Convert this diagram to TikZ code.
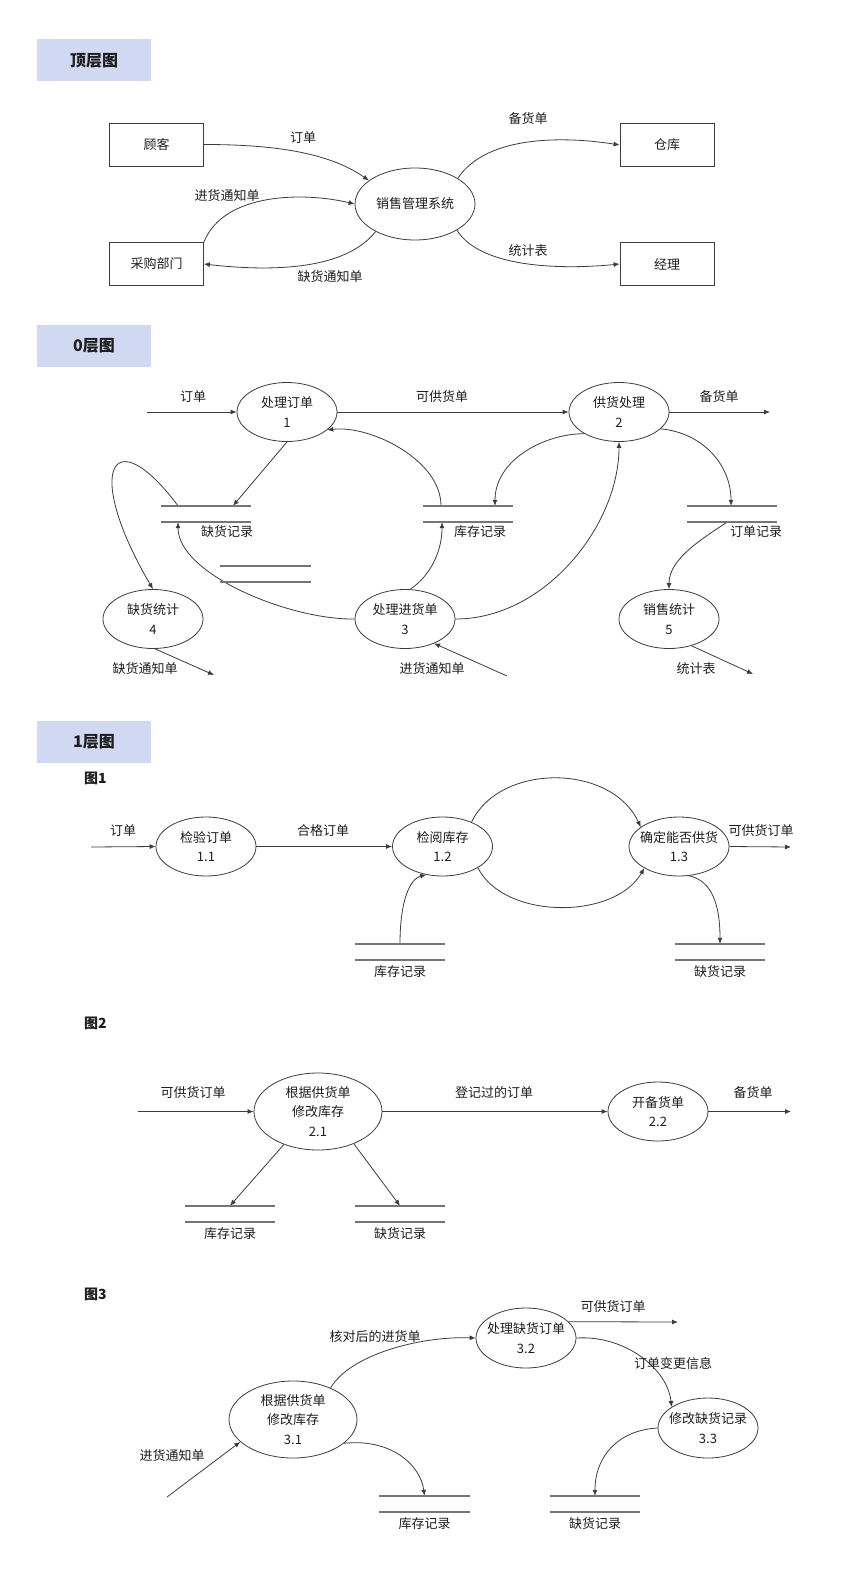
\documentclass[tikz,border=0pt]{standalone}
\usepackage{fontspec}
\setmainfont{Noto Sans CJK SC}
\usetikzlibrary{arrows.meta,shapes.geometric,positioning}

\definecolor{hdrblue}{RGB}{209,217,242}
\definecolor{linegray}{RGB}{60,60,60}
\definecolor{storegray}{RGB}{118,118,118}
\definecolor{textblack}{RGB}{30,30,30}
\newcommand{\dfdfont}{\fontsize{13pt}{19.5pt}\selectfont}

\tikzset{
  header/.style={rectangle, fill=hdrblue, minimum width=113.5pt, minimum height=42pt,
    inner sep=0pt, font=\fontsize{16pt}{18pt}\selectfont\bfseries, text=textblack},
  figtitle/.style={inner sep=0pt, font=\fontsize{14pt}{16pt}\selectfont\bfseries, text=textblack},
  entity/.style={rectangle, draw=linegray, line width=0.8pt, minimum width=94pt,
    minimum height=43pt, inner sep=0pt, font=\dfdfont, text=textblack},
  proc/.style={ellipse, draw=linegray, line width=0.8pt, minimum width=100pt,
    minimum height=59pt, inner sep=-5pt, align=center, font=\dfdfont, text=textblack},
  bigproc/.style={minimum width=128pt, minimum height=77pt},
  datastore/.style={rectangle, minimum width=90pt, minimum height=16pt, inner sep=0pt},
  storeline/.style={draw=storegray, line width=1.7pt},
  flow/.style={draw=linegray, line width=0.8pt, -{Latex[length=6pt,width=5pt]}},
  flowlabel/.style={inner sep=0pt, font=\dfdfont, text=textblack}
}

\begin{document}
\begin{tikzpicture}[x=1pt,y=-1pt]
    \fill[white] (0,0) rectangle (840,1589);
    \useasboundingbox (0,0) rectangle (840,1589);

    % ---------- top level ----------
    \node[header] (hdrTop) at (94,60.5) {顶层图};
    \node[entity] (cust) at (156.5,144.5) {顾客};
    \node[entity] (purch) at (156.5,264) {采购部门};
    \node[entity] (wh) at (667,145) {仓库};
    \node[entity] (mgr) at (667,264) {经理};
    \node[proc, minimum width=120pt, minimum height=72pt] (sys) at (415,204) {销售管理系统};

    % draw flows
    \draw[flow] (cust.east) .. controls +(70,0) and +(-40,-28) .. (sys.153);
    \draw[flow] (purch.north east) .. controls +(20,-50) and +(-50,-12) .. (sys.west);
    \draw[flow] (sys.-145) .. controls +(-30,38) and +(70,8) .. (purch.east);
    \draw[flow] (sys.31) .. controls +(30,-45) and +(-50,-8) .. (wh.west);
    \draw[flow] (sys.-32) .. controls +(25,40) and +(-50,5) .. (mgr.west);

    % draw labels
    \node[flowlabel] (lTopOrder) at (303,138) {订单};
    \node[flowlabel] (lTopIn) at (227,196) {进货通知单};
    \node[flowlabel] (lTopShort) at (330,277) {缺货通知单};
    \node[flowlabel] (lTopPrep) at (528,119) {备货单};
    \node[flowlabel] (lTopStat) at (528,251) {统计表};

    % ---------- level 0 ----------
    \node[header] (hdr0) at (94,346) {0层图};
    \node[proc] (p1) at (287,412) {处理订单\\1};
    \node[proc] (p2) at (619,412) {供货处理\\2};
    \node[proc] (p3) at (405,619) {处理进货单\\3};
    \node[proc] (p4) at (153,619) {缺货统计\\4};
    \node[proc] (p5) at (669,619) {销售统计\\5};

    % draw stores
    \node[datastore] (d1) at (206,514) {};
    \node[datastore] (d2) at (468,514) {};
    \node[datastore] (d3) at (732,514) {};
    \node[datastore] (d4) at (265.5,574) {};
    \node[flowlabel, below=3pt of d1, xshift=21pt] (d1name) {缺货记录};
    \node[flowlabel, below=3pt of d2, xshift=12pt] (d2name) {库存记录};
    \node[flowlabel, below=3pt of d3, xshift=24pt] (d3name) {订单记录};

    \coordinate (in0) at (147,412);
    \coordinate (out0) at (770,412);
    \coordinate (out4) at (214,675);
    \coordinate (in3) at (507,676);
    \coordinate (out5) at (753,674);

    % draw flows
    \draw[flow] (in0) -- (p1.west);
    \draw[flow] (p1.east) -- (p2.west);
    \draw[flow] (p2.east) -- (out0);
    \draw[flow] (p1.south) -- ([xshift=27pt]d1.north);
    \draw[flow] ([xshift=-28pt]d1.north) .. controls +(-66,-88) and +(-70,-119) .. (p4.north);
    \draw[flow] (p3.west) .. controls +(-65,1) and +(0,52) .. ([xshift=-28pt]d1.south);
    \draw[flow] ([xshift=-27pt]d2.north) .. controls +(0,-46) and +(43,-5) .. (p1.-24);
    \draw[flow] (p2.-148) .. controls +(-40,0) and +(0,-46) .. ([xshift=27pt]d2.north);
    \draw[flow] (p2.-22) .. controls +(42,4) and +(0,-41) .. ([xshift=-1pt]d3.north);
    \draw[flow] ([xshift=-5pt]d3.south) .. controls +(-29,19) and +(0,-29) .. (p5.north);
    \draw[flow] (p3.80) .. controls +(22,-15) and +(0,27) .. ([xshift=-26pt]d2.south);
    \draw[flow] (p3.east) .. controls +(90,0) and +(0,83) .. (p2.south);
    \draw[flow] (p4.-86) -- (out4);
    \draw[flow] (in3) -- (p3.-40);
    \draw[flow] (p5.-50) -- (out5);

    % draw labels
    \node[flowlabel] (l0Order) at (193,397) {订单};
    \node[flowlabel] (l0Avail) at (442,397) {可供货单};
    \node[flowlabel] (l0Prep) at (719,397) {备货单};
    \node[flowlabel] (l0Short) at (145,669) {缺货通知单};
    \node[flowlabel] (l0In) at (432,669) {进货通知单};
    \node[flowlabel] (l0Stat) at (696,669) {统计表};

    % ---------- level 1, figure 1 ----------
    \node[header] (hdr1) at (94,742) {1层图};
    \node[figtitle] (fig1) at (95.5,778) {图1};
    \node[proc] (q1) at (206,846.5) {检验订单\\1.1};
    \node[proc] (q2) at (442.5,846.5) {检阅库存\\1.2};
    \node[proc] (q3) at (679,846.5) {确定能否供货\\1.3};
    \node[datastore] (e1) at (400,952) {};
    \node[datastore] (e2) at (720,952) {};
    \node[flowlabel, below=5pt of e1] (e1name) {库存记录};
    \node[flowlabel, below=5pt of e2] (e2name) {缺货记录};

    \coordinate (in1) at (91,847);
    \coordinate (out1) at (791,847);

    \draw[flow] (in1) -- (q1.west);
    \draw[flow] (q1.east) -- (q2.west);
    \draw[flow] (q3.east) -- (out1);
    \draw[flow] (q2.40) .. controls +(28,-59) and +(-30,-64) .. (q3.153);
    \draw[flow] (q2.-31) .. controls +(26,52) and +(-30,52) .. (q3.-148);
    \draw[flow] (e1.north) .. controls +(0,-44) and +(-16,4) .. (q2.-120);
    \draw[flow] (q3.-71) .. controls +(23,5) and +(0,-39) .. (e2.north);

    \node[flowlabel] (l1Order) at (123,831) {订单};
    \node[flowlabel] (l1Valid) at (323,831) {合格订单};
    \node[flowlabel] (l1Avail) at (761,831) {可供货订单};

    % ---------- figure 2 ----------
    \node[figtitle] (fig2) at (95.5,1023) {图2};
    \node[proc, bigproc] (r1) at (318,1111.5) {根据供货单\\修改库存\\2.1};
    \node[proc] (r2) at (658,1111.5) {开备货单\\2.2};
    \node[datastore] (g1) at (230,1214) {};
    \node[datastore] (g2) at (400,1214) {};
    \node[flowlabel, below=5pt of g1] (g1name) {库存记录};
    \node[flowlabel, below=5pt of g2] (g2name) {缺货记录};

    \coordinate (in2) at (138,1111.5);
    \coordinate (out2) at (791,1111.5);

    \draw[flow] (in2) -- (r1.west);
    \draw[flow] (r1.east) -- (r2.west);
    \draw[flow] (r2.east) -- (out2);
    \draw[flow] (r1.-136) -- (g1.north);
    \draw[flow] (r1.-42) -- (g2.north);

    \node[flowlabel] (l2Avail) at (193,1093) {可供货订单};
    \node[flowlabel] (l2Logged) at (494,1093) {登记过的订单};
    \node[flowlabel] (l2Prep) at (753,1093) {备货单};

    % ---------- figure 3 ----------
    \node[figtitle] (fig3) at (95.5,1294) {图3};
    \node[proc, bigproc] (t1) at (293,1419.5) {根据供货单\\修改库存\\3.1};
    \node[proc, minimum height=60pt] (t2) at (526,1338) {处理缺货订单\\3.2};
    \node[proc, minimum height=60pt] (t3) at (708,1428) {修改缺货记录\\3.3};
    \node[datastore] (h1) at (424.5,1504) {};
    \node[datastore] (h2) at (595,1504) {};
    \node[flowlabel, below=5pt of h1] (h1name) {库存记录};
    \node[flowlabel, below=5pt of h2] (h2name) {缺货记录};

    \coordinate (out3) at (678,1322);
    \coordinate (in31) at (167,1497);

    \draw[flow] (t2.21) -- (out3);
    \draw[flow] (t1.40) .. controls +(19,-33) and +(-56,-2) .. (t2.west);
    \draw[flow] (t2.east) .. controls +(49,-3) and +(-4,-38) .. (t3.150);
    \draw[flow] (in31) -- (t1.-157);
    \draw[flow] (t1.-25) .. controls +(47,-5) and +(-4,-31) .. (h1.north);
    \draw[flow] (t3.west) .. controls +(-38,2) and +(0,-41) .. (h2.north);

    \node[flowlabel] (l3Avail) at (613,1307) {可供货订单};
    \node[flowlabel] (l3Checked) at (375,1337) {核对后的进货单};
    \node[flowlabel] (l3Change) at (673,1363) {订单变更信息};
    \node[flowlabel] (l3In) at (172,1456) {进货通知单};

    % draw store lines
    \foreach \s in {d1,d2,d3,d4,e1,e2,g1,g2,h1,h2}
    \draw[storeline] (\s.north west) -- (\s.north east) (\s.south west) -- (\s.south east);
\end{tikzpicture}
\end{document}
